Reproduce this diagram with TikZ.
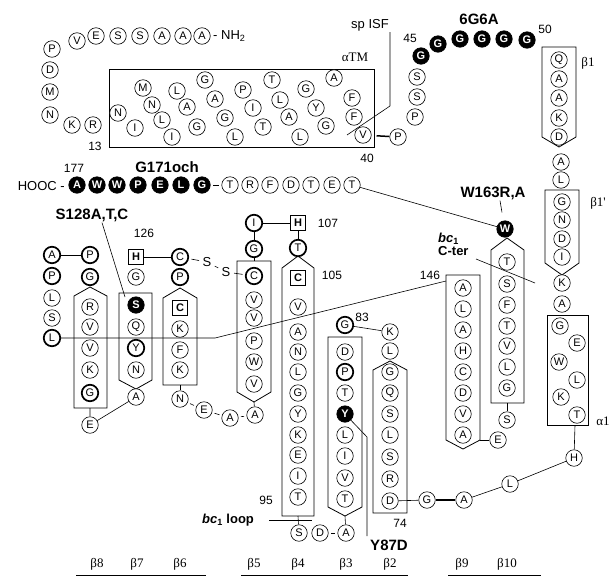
\documentclass[tikz,border=0pt]{standalone}
\usepackage{fontspec}
\setmainfont{Liberation Sans}
\newfontfamily\serifgr{Liberation Serif}
\usetikzlibrary{backgrounds}
\tikzset{
  res/.style    = {circle, draw, fill=white, line width=0.6pt, inner sep=0pt,
                   minimum size=16.5pt, font=\fontsize{11}{11}\selectfont},
  tres/.style   = {res, line width=1.7pt},
  bres/.style   = {res, fill=black, text=white,
                   font=\fontsize{11}{11}\selectfont\bfseries},
  sqres/.style  = {rectangle, draw, fill=white, line width=1.7pt, inner sep=0pt,
                   minimum size=15pt, font=\fontsize{11}{11}\selectfont\bfseries},
  strand/.style = {line width=0.8pt},
  link/.style   = {line width=0.6pt},
  hyph/.style   = {line width=0.6pt, shorten <=2.5pt, shorten >=2.5pt},
  num/.style    = {font=\fontsize{12}{12}\selectfont, inner sep=1pt},
  txt/.style    = {font=\fontsize{13}{13}\selectfont, inner sep=1pt},
  mut/.style    = {font=\fontsize{15}{15}\selectfont\bfseries, inner sep=1pt},
  sslbl/.style  = {font=\serifgr\fontsize{13}{13}\selectfont, inner sep=1pt},
}

\begin{document}
\begin{tikzpicture}[x=1pt,y=-1pt]
  \useasboundingbox (0,0) rectangle (609,581);

  % helix and strand outlines
  \draw[strand] (109,69) rectangle (374,147);
  \draw[strand] (547,315) rectangle (588,425);
  \draw[strand] (542,47) -- (576,47) -- (576,137) -- (559,147) -- (542,137) -- cycle;
  \draw[strand] (545,190) -- (579,190) -- (579,263) -- (562,275) -- (545,263) -- cycle;
  \draw[strand] (90,287) -- (107,296) -- (107,408) -- (74,408) -- (74,296) -- cycle;
  \draw[strand] (119,293) -- (152,293) -- (152,380) -- (136,389) -- (119,380) -- cycle;
  \draw[strand] (180,288) -- (197,298) -- (197,385) -- (163,385) -- (163,298) -- cycle;
  \draw[strand] (237,261) -- (271,261) -- (271,392) -- (254,402) -- (237,392) -- cycle;
  \draw[strand] (298,256) -- (314,268) -- (314,516) -- (282,516) -- (282,268) -- cycle;
  \draw[strand] (328,337) -- (362,337) -- (362,507) -- (345,516) -- (328,507) -- cycle;
  \draw[strand] (390,361) -- (407,370) -- (407,513) -- (373,513) -- (373,370) -- cycle;
  \draw[strand] (446,275) -- (480,275) -- (480,440) -- (463,449) -- (446,440) -- cycle;
  \draw[strand] (507,238) -- (524,250) -- (524,403) -- (491,403) -- (491,250) -- cycle;

  \coordinate (b8bot) at (90,408);
  \coordinate (b7tip) at (136,389);
  \coordinate (b6bot) at (180,385);
  \coordinate (b5tip) at (254,402);
  \coordinate (b5top) at (254,261);
  \coordinate (b4tip) at (298,256);
  \coordinate (b4bot) at (298,516);
  \coordinate (b3tip) at (345,516);
  \coordinate (b9tl) at (446,281);
  \coordinate (b9rt) at (480,440);
  \coordinate (b10bot) at (507,403);
  \coordinate (a1bot) at (575,425);
  \coordinate (kink) at (215,338);
  \coordinate (isfa) at (390,32);
  \coordinate (isfb) at (390,106);
  \coordinate (isfc) at (347,135);
  \coordinate (ctera) at (476,259);
  \coordinate (cterb) at (535,283);
  \coordinate (sptr) at (125,297);
  \coordinate (ybend) at (367,437);
  \coordinate (yend) at (367,536);
  \coordinate (loopa) at (269,520);
  \coordinate (loopb) at (312,520);

  % N-terminal tail
  \foreach \l/\x/\y [count=\i] in {A/202/36, A/183/36, A/162/36, S/140/36, S/118/36,
      E/96/36, V/77/41, P/52/49, D/50/70, M/50/92, N/50/115, K/72/125, R/93/125}
    \node[res] (nt\i) at (\x,\y) {\l};
  \node[txt, anchor=west] (nh2) at (212,36) {- NH\textsubscript{2}};
  \node[num] (n13) at (95,146) {13};

  % transmembrane helix
  \foreach \l/\x/\y [count=\i] in {N/118/113, I/135/128, M/143/88, N/152/105,
      L/162/120, I/172/137, L/177/91, A/187/107, G/197/127, G/205/80, A/215/99,
      G/225/118, L/235/137, P/243/90, I/253/108, T/263/127, T/272/80, L/280/100,
      A/289/117, L/300/137, G/306/89, Y/316/108, G/326/126, A/334/78, F/352/98,
      F/354/117, V/363/135}
    \node[res] (tm\i) at (\x,\y) {\l};
  \node[sslbl] (atm) at (355,57) {αTM};
  \node[num] (n40) at (367,158) {40};
  \node[txt] (spisf) at (370,25) {sp ISF};

  % linker and glycine stretch
  \node[res] (lp1) at (398,137) {P};
  \node[res] (lp2) at (415,117) {P};
  \node[res] (ls1) at (417,97) {S};
  \node[res] (ls2) at (417,77) {S};
  \foreach \x/\y [count=\i] in {421/56, 438/44, 460/39, 482/39, 504/39, 527/40}
    \node[bres] (gg\i) at (\x,\y) {G};
  \node[num] (n45) at (410,38) {45};
  \node[num] (n50) at (545,29) {50};
  \node[mut] (m6g) at (479,19) {6G6A};

  % beta1, beta1', alpha1
  \foreach \l/\y [count=\i] in {Q/60, A/79, A/98, K/118, D/137}
    \node[res] (bi\i) at (559,\y) {\l};
  \node[res] (ra1) at (561,162) {A};
  \node[res] (rl1) at (561,180) {L};
  \foreach \l/\y [count=\i] in {G/202, N/220, D/239, I/257}
    \node[res] (bip\i) at (562,\y) {\l};
  \node[res] (rk1) at (562,283) {K};
  \node[res] (ra2) at (562,304) {A};
  \foreach \l/\x/\y [count=\i] in {G/560/326, E/577/343, W/559/362, L/577/380,
      K/561/397, T/577/415}
    \node[res] (ai\i) at (\x,\y) {\l};
  \node[sslbl] (lb1) at (588,63) {β1};
  \node[sslbl] (lb1p) at (598,203) {β1'};
  \node[sslbl] (la1) at (603,421) {α1};
  \node[res] (rh) at (574,458) {H};
  \node[res] (rl2) at (510,484) {L};
  \node[res] (ra3) at (464,500) {A};
  \node[res] (rg) at (427,500) {G};

  % C-terminal tail
  \node[txt, anchor=east] (hooc) at (66,186) {HOOC -};
  \foreach \l/\x [count=\i] in {A/77, W/97, W/117, P/138, E/160, L/181, G/202}
    \node[bres] (ck\i) at (\x,185) {\l};
  \foreach \l/\x [count=\i] in {T/230, R/250, F/270, D/291, T/311, E/332, T/352}
    \node[res] (ct\i) at (\x,185) {\l};
  \node[num] (n177) at (74,168) {177};
  \node[mut] (m171) at (167,167) {G171och};

  % beta8
  \foreach \s/\l/\y [count=\i] in {tres/A/255, tres/P/276, res/L/298, res/S/318, tres/L/338}
    \node[\s] (bviiia\i) at (52,\y) {\l};
  \foreach \s/\l/\y [count=\i] in {tres/P/255, tres/G/277, res/R/307, res/V/327,
      res/V/348, res/K/370, tres/G/393}
    \node[\s] (bviii\i) at (90,\y) {\l};
  \node[res] (e8) at (90,425) {E};

  % beta7
  \foreach \s/\l/\y [count=\i] in {sqres/H/257, res/G/277, bres/S/305, res/Q/327,
      tres/Y/348, res/N/370}
    \node[\s] (bvii\i) at (136,\y) {\l};
  \node[res] (a7) at (136,397) {A};
  \node[num] (n126) at (144,233) {126};
  \node[mut] (m128) at (92,215) {S128A,T,C};

  % beta6
  \foreach \s/\l/\y [count=\i] in {tres/C/257, tres/P/277, sqres/C/308, res/K/329,
      res/F/350, res/K/370}
    \node[\s] (bvi\i) at (180,\y) {\l};
  \node[res] (n6) at (180,399) {N};
  \node[res] (e6) at (204,410) {E};
  \node[res] (a6) at (230,418) {A};
  \node[res] (a5) at (255,415) {A};
  \node[txt] (ss1) at (207,262) {S};
  \node[txt] (ss2) at (226,272) {S};

  % beta5
  \foreach \s/\l/\y [count=\i] in {tres/I/223, tres/G/249, tres/C/276, res/V/300,
      res/V/318, res/P/341, res/W/362, res/V/384}
    \node[\s] (bv\i) at (254,\y) {\l};

  % beta4
  \foreach \s/\l/\y [count=\i] in {sqres/H/223, tres/T/248, sqres/C/278, res/V/307,
      res/A/332, res/N/352, res/L/372, res/G/393, res/Y/414, res/K/435, res/E/455,
      res/I/476, res/T/497}
    \node[\s] (biv\i) at (298,\y) {\l};
  \node[num] (n107) at (328,223) {107};
  \node[num] (n105) at (332,275) {105};
  \node[num] (n95) at (266,500) {95};
  \node[res] (ls) at (299,533) {S};
  \node[res] (ld) at (320,533) {D};
  \node[res] (la) at (346,533) {A};
  \node[font=\fontsize{13}{13}\selectfont\bfseries, inner sep=1pt] (bcl) at (228,520)
    {\textit{bc}\textsubscript{1} loop};

  % beta3
  \foreach \s/\l/\y [count=\i] in {tres/G/325, res/D/352, tres/P/372, res/T/393,
      bres/Y/414, res/L/435, res/I/456, res/V/478, res/T/499}
    \node[\s] (biii\i) at (345,\y) {\l};
  \node[num] (n83) at (362,317) {83};
  \node[mut] (m87) at (389,545) {Y87D};

  % beta2
  \foreach \l/\y [count=\i] in {K/332, L/351, G/372, Q/393, S/414, L/435, S/457,
      R/479, D/501}
    \node[res] (bii\i) at (390,\y) {\l};
  \node[num] (n74) at (400,523) {74};

  % beta9, beta10
  \foreach \l/\y [count=\i] in {A/288, L/309, A/330, H/351, C/372, D/393, V/414, A/435}
    \node[res] (bix\i) at (463,\y) {\l};
  \node[res] (e9) at (498,440) {E};
  \node[num] (n146) at (430,275) {146};
  \foreach \l/\y [count=\i] in {T/262, S/284, F/305, T/326, V/346, L/367, G/388}
    \node[res] (bx\i) at (507,\y) {\l};
  \node[bres] (w) at (505,229) {W};
  \node[res] (s10) at (507,420) {S};
  \node[mut] (m163) at (493,193) {W163R,A};
  \node[font=\fontsize{13}{13}\selectfont\bfseries, inner sep=1pt, align=left,
    anchor=north west] (cter) at (437,232) {\textit{bc}\textsubscript{1}\\C-ter};

  % strand labels
  \foreach \t/\x in {8/97, 7/137, 6/180, 5/254, 4/298, 3/346, 2/390, 9/462, 10/507}
    \node[sslbl] (st\t) at (\x,564) {β\t};
  \draw[link] (76,575) -- (206,575);
  \draw[link] (241,575) -- (408,575);
  \draw[link] (448,575) -- (541,575);

  % connectors
  \begin{scope}[on background layer]
    \draw[link] (isfa) -- (isfb) -- (isfc);
    \draw[line width=1.5pt, shorten <=5pt] (tm27) -- (lp1);
    \draw[link] (bviiia1) -- (bviii1);
    \draw[link] (bvii1) -- (bvi1);
    \draw[hyph] (bvi1) -- (ss1);
    \draw[hyph] (ss1) -- (ss2);
    \draw[hyph] (ss2) -- (bv3);
    \draw[link] (bv1) -- (biv1);
    \draw[link] (bv1) -- (bv2) -- (b5top);
    \draw[link] (biv1) -- (biv2) -- (b4tip);
    \draw[link] (biii1) -- (bii1);
    \draw[link] (b8bot) -- (e8) -- (a7) -- (b7tip);
    \draw[link] (b6bot) -- (n6);
    \draw[hyph] (n6) -- (e6);
    \draw[hyph] (e6) -- (a6);
    \draw[hyph] (a6) -- (a5);
    \draw[link] (a5) -- (b5tip);
    \draw[link] (b4bot) -- (ls);
    \draw[hyph] (ld) -- (la);
    \draw[link] (b3tip) -- (la);
    \draw[link] (loopa) -- (loopb);
    \draw[link] (bii9) -- (rg);
    \draw[line width=1.5pt] (rg) -- (ra3);
    \draw[link] (ra3) -- (rl2) -- (rh) -- (a1bot);
    \draw[link] (b9rt) -- (e9);
    \draw[link] (b10bot) -- (s10);
    \draw[hyph] (ck7) -- (ct1);
    \draw[link] (ct7) -- (w);
    \draw[link] ([xshift=7pt]m163.south) -- ([xshift=-3pt,yshift=8pt]w.north);
    \draw[link] ([xshift=10pt]m128.south) -- (sptr);
    \draw[link] (bviiia5) -- (kink) -- (b9tl);
    \draw[link] (ctera) -- (cterb);
    \draw[link] (biii5) -- (ybend) -- (yend);
  \end{scope}
\end{tikzpicture}
\end{document}
